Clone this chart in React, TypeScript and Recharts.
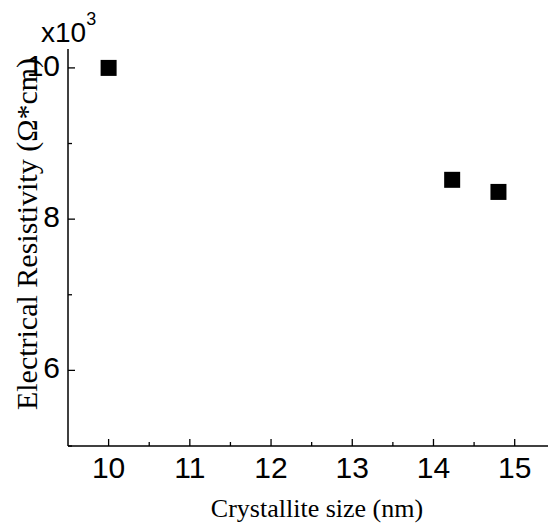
import React from "react";
import { ScatterChart, Scatter, XAxis, YAxis, Label } from "recharts";

const crystalliteSize = [10.0, 14.23, 14.8];
const resistivity = [10000, 8520, 8360];

const xMajorTicks = [10, 11, 12, 13, 14, 15];
const xMinorTicks = [10.5, 11.5, 12.5, 13.5, 14.5];
const yMajorTicks = [6000, 8000, 10000];
const yMinorTicks = [5000, 7000, 9000];

const points = crystalliteSize.map((x, i) => ({ x, y: resistivity[i] }));

const X_DOMAIN = [9.5, 15.41];
const Y_DOMAIN = [5000, 10250];

const sansFont = "Liberation Sans, Arial, sans-serif";
const serifFont = "Liberation Serif, Times New Roman, serif";

const xAllTicks = [...xMajorTicks, ...xMinorTicks].sort((a, b) => a - b);
const yAllTicks = [...yMajorTicks, ...yMinorTicks].sort((a, b) => a - b);

// ticks point into the plot, like the original; minor ones get no label
function XTick(props: any) {
  const { x, y, payload } = props;
  const major = xMajorTicks.includes(payload.value);
  const len = major ? 7 : 4;
  return (
    <g>
      <line x1={x} x2={x} y1={y} y2={y - len} stroke="#000" strokeWidth={1.3} />
      {major && (
        <text x={x} y={y + 32} textAnchor="middle" fontFamily={sansFont} fontSize={30} fill="#000">
          {payload.value}
        </text>
      )}
    </g>
  );
}

function YTick(props: any) {
  const { x, y, payload } = props;
  const major = yMajorTicks.includes(payload.value);
  const len = major ? 7 : 4;
  return (
    <g>
      <line x1={x} x2={x + len} y1={y} y2={y} stroke="#000" strokeWidth={1.3} />
      {major && (
        <text x={x - 8} y={y + 8} textAnchor="end" fontFamily={sansFont} fontSize={30} fill="#000">
          {payload.value / 1000}
        </text>
      )}
    </g>
  );
}

function YTitle() {
  return (
    <g>
      <text
        x={37}
        y={234}
        transform="rotate(-90, 37, 234)"
        textAnchor="middle"
        fontFamily={serifFont}
        fontSize={30}
        fill="#000"
      >
        Electrical Resistivity (Ω*cm)
      </text>
      <text x={41} y={42} fontFamily={sansFont} fontSize={28} fill="#000">
        x10
        <tspan dy={-17} fontSize={18}>3</tspan>
      </text>
    </g>
  );
}

function XTitle() {
  return (
    <text x={317} y={517} textAnchor="middle" fontFamily={serifFont} fontSize={26} fill="#000">
      Crystallite size (nm)
    </text>
  );
}

function SquareDot(props: any) {
  const { cx, cy } = props;
  return <rect x={cx - 8} y={cy - 8} width={16} height={16} fill="#000" />;
}

export default function App() {
  return (
    <div style={{ position: "absolute", left: 0, top: 0, width: 548, height: 530, background: "#fff" }}>
      <ScatterChart width={548} height={530} margin={{ top: 49, right: 0, bottom: 0, left: 0 }}>
        <XAxis
          xAxisId="main"
          type="number"
          dataKey="x"
          domain={X_DOMAIN}
          ticks={xAllTicks}
          interval={0}
          allowDataOverflow
          height={84}
          stroke="#000"
          strokeWidth={1.5}
          tickSize={0}
          tickMargin={0}
          tickLine={false}
          tick={<XTick />}
        >
          <Label content={<XTitle />} />
        </XAxis>
        <XAxis
          xAxisId="top"
          orientation="top"
          type="number"
          domain={X_DOMAIN}
          height={0}
          stroke="#000"
          strokeWidth={1.5}
          tick={false}
          tickLine={false}
        />
        <YAxis
          yAxisId="main"
          type="number"
          dataKey="y"
          domain={Y_DOMAIN}
          ticks={yAllTicks}
          interval={0}
          allowDataOverflow
          width={68}
          stroke="#000"
          strokeWidth={1.5}
          tickSize={0}
          tickMargin={0}
          tickLine={false}
          tick={<YTick />}
        >
          <Label content={<YTitle />} />
        </YAxis>
        <Scatter
          xAxisId="main"
          yAxisId="main"
          data={points}
          fill="#000"
          shape={<SquareDot />}
          isAnimationActive={false}
        />
      </ScatterChart>
    </div>
  );
}
